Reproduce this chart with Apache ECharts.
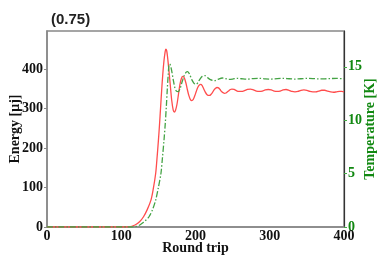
<!DOCTYPE html>
<html><head><meta charset="utf-8">
<script src="https://cdn.jsdelivr.net/npm/echarts@6/dist/echarts.min.js"></script>
<style>html,body{margin:0;padding:0;background:#fff}#c{width:383px;height:256px}</style>
</head><body><div id="c"></div>
<script>
var xTicks = [0, 100, 200, 300, 400];
var energyTicks = [0, 100, 200, 300, 400];
var tempTicks = [0, 5, 10, 15];
var energy = [
 [0,0],[100,0],[110,0.5],[118.5,5],[125,14],[130,26],[135,44],[140,68],[143,95],[146.4,136],[148,170],[150,218],[151.5,258],[153,303],[154.5,348],[156,388],[157.5,420],[159,442],[160,450],[161.2,446],[162.5,428],[164,400],[166,360],[168,320],[170,296],[171.5,291],[173,295],[175,310],[177,335],[179,360],[181,376],[183,381],[185,377],[187,365],[189,348],[191,333],[193,323],[195,320],[197,323],[199,332],[201,343],[203,353],[205,359],[207,361],[209,358],[211,350],[213,342],[215,336],[217,333],[219,333],[221,336],[223,341],[225,347],[227,351],[229,353],[231,352],[233,348],[235,343],[237,340],[239,338],[241,339],[243,342],[245,345],[247,348],[249,349],[252,348],[255,345],[258,343],[262,343],[266,345],[270,348],[274,349],[278,347],[282,344],[286,343],[290,344],[294,347],[298,348],[302,347],[306,344],[310,343],[314,344],[318,347],[322,348],[326,346],[330,343],[334,342],[338,343],[342,346],[346,347],[350,346],[354,343],[358,342],[362,342],[366,344],[370,346],[374,346],[378,344],[382,342],[386,341],[390,342],[394,343],[397,343],[400,342]
];
var temperature = [
 [0,0],[110,0],[120,0.05],[125,0.19],[130,0.45],[134,0.7],[137.4,0.96],[142,1.6],[146.4,2.53],[150,3.7],[153.5,5.03],[155.5,6.5],[157.6,8.15],[159.3,9.7],[160.7,11.26],[162,12.9],[163.3,14.3],[164.7,15.26],[166,15.2],[168,14.6],[170,13.8],[172,13.1],[174,12.75],[176.6,12.67],[179,12.9],[182,13.6],[185,14.2],[187.5,14.5],[189.5,14.54],[192,14.3],[195,13.8],[198,13.45],[200.7,13.36],[203,13.5],[206,13.85],[209,14.1],[212.8,14.17],[216,14.0],[220,13.8],[226,13.7],[231,13.85],[236,13.95],[240,13.9],[245,13.82],[250,13.85],[256,13.92],[262,13.88],[270,13.84],[278,13.9],[286,13.92],[294,13.87],[302,13.85],[310,13.9],[318,13.92],[326,13.88],[334,13.85],[342,13.88],[350,13.92],[358,13.9],[366,13.86],[374,13.87],[382,13.9],[390,13.91],[400,13.88]
];
var chart = echarts.init(document.getElementById('c'));
var serif = '"Liberation Serif","DejaVu Serif",serif';
chart.setOption({
 animation:false,
 title:{text:'(0.75)',left:46,top:7,textStyle:{fontFamily:'"Liberation Sans",Arial,sans-serif',fontWeight:'bold',fontSize:15,color:'#222'}},
 grid:{left:47,right:39,top:31,bottom:29,show:true,borderColor:'#888',borderWidth:1.5,containLabel:false,outerBoundsMode:'none'},
 xAxis:{type:'value',min:0,max:400,interval:100,
  name:'Round trip',nameLocation:'middle',nameGap:14,nameMoveOverlap:false,
  nameTextStyle:{fontFamily:serif,fontWeight:'bold',fontSize:14,color:'#111'},
  axisLine:{lineStyle:{color:'#888',width:1.5}},axisTick:{show:false},splitLine:{show:false},
  axisLabel:{fontFamily:serif,fontWeight:'bold',fontSize:14,color:'#111',margin:2,
   formatter:function(v){return xTicks.indexOf(v)>=0?String(v):'';}}},
 yAxis:[
  {type:'value',min:0,max:496,interval:100,
   name:'Energy [μj]',nameLocation:'middle',nameGap:25,nameMoveOverlap:false,
   nameTextStyle:{fontFamily:serif,fontWeight:'bold',fontSize:14,color:'#111'},
   axisLine:{show:true,lineStyle:{color:'#888',width:1.5}},
   axisTick:{show:true,length:3,lineStyle:{color:'#888'}},splitLine:{show:false},
   axisLabel:{fontFamily:serif,fontWeight:'bold',fontSize:14,color:'#111',margin:4,showMaxLabel:false,
    formatter:function(v){return energyTicks.indexOf(v)>=0?String(v):'';}}},
  {type:'value',min:0,max:18.35,interval:5,position:'right',
   name:'Temperature [K]',nameLocation:'middle',nameGap:19,nameRotate:90,nameMoveOverlap:false,
   nameTextStyle:{fontFamily:serif,fontWeight:'bold',fontSize:14,color:'#118811'},
   axisLine:{show:true,lineStyle:{color:'#333',width:1.2}},
   axisTick:{show:true,length:3,lineStyle:{color:'#4a4'}},splitLine:{show:false},
   axisLabel:{fontFamily:serif,fontWeight:'bold',fontSize:14,color:'#118811',margin:4,showMaxLabel:false,
    formatter:function(v){return tempTicks.indexOf(v)>=0?String(v):'';}}}
 ],
 series:[
  {type:'line',yAxisIndex:0,data:energy,smooth:0.3,showSymbol:false,lineStyle:{color:'#ff4d4d',width:1.3}},
  {type:'line',yAxisIndex:1,data:temperature,smooth:0.3,showSymbol:false,lineStyle:{color:'#44a344',width:1.3,type:[6,2,1.5,2]}}
 ]
});
</script></body></html>
